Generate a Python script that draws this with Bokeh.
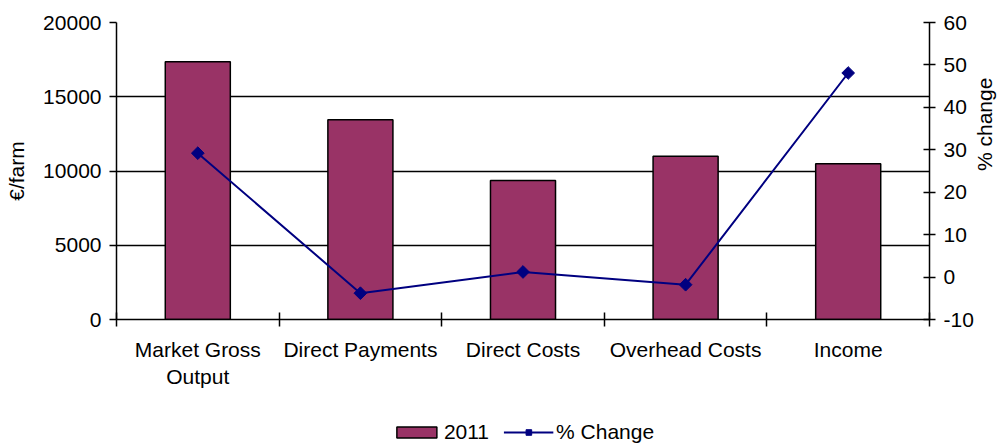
from bokeh.plotting import figure
from bokeh.layouts import column
from bokeh.models import (ColumnDataSource, LinearAxis, Range1d, FixedTicker,
                          Legend, LegendItem)
from bokeh.embed import file_html
from bokeh.resources import INLINE
import math

# ---- data ----
categories = ["Market Gross\nOutput", "Direct Payments", "Direct Costs",
              "Overhead Costs", "Income"]
values_2011 = [17350, 13450, 9360, 11000, 10490]
pct_change = [29.2, -3.8, 1.2, -1.8, 48.1]
left_ticks = [0, 5000, 10000, 15000, 20000]
right_ticks = [-10, 0, 10, 20, 30, 40, 50, 60]

xs = [i + 0.5 for i in range(len(categories))]
src = ColumnDataSource(dict(x=xs, v=values_2011, pct=pct_change))

FONT = "Liberation Sans"
FS = "21px"
BAR = dict(width=0.4, bottom=0, fill_color="#993366", line_color="black",
           line_width=1.5)
LINE = dict(line_color="#000080", line_width=2)
MARK = dict(marker="square", angle=math.pi / 4, size=9, fill_color="#000080",
            line_color="#000080")

p = figure(frame_width=813, frame_height=297, output_backend="svg",
           toolbar_location=None, x_range=Range1d(0, len(categories)),
           y_range=Range1d(0, 20000), min_border_left=116, min_border_top=22,
           min_border_right=78, min_border_bottom=100)
p.extra_y_ranges = {"pct": Range1d(-10, 60)}
p.outline_line_color = None
p.background_fill_color = "white"
p.border_fill_color = "white"

p.vbar(x="x", top="v", source=src, **BAR)
p.line(x="x", y="pct", source=src, y_range_name="pct", **LINE)
p.scatter(x="x", y="pct", source=src, y_range_name="pct", **MARK)

# x axis
xa = p.xaxis[0]
xa.ticker = FixedTicker(ticks=xs, minor_ticks=list(range(len(categories) + 1)))
xa.major_label_overrides = {x: c for x, c in zip(xs, categories)}
xa.major_tick_out = 0
xa.major_tick_in = 0
xa.minor_tick_out = 7
xa.minor_tick_in = 7
xa.minor_tick_line_color = "black"
xa.minor_tick_line_width = 1.5
xa.axis_line_color = "black"
xa.axis_line_width = 1.5
xa.major_label_standoff = 11
xa.major_label_text_font = FONT
xa.major_label_text_font_size = FS
xa.major_label_text_color = "black"

# left axis
ya = p.yaxis[0]
ya.ticker = FixedTicker(ticks=left_ticks)
ya.minor_tick_line_color = None
ya.major_tick_out = 7
ya.major_tick_in = 0
ya.major_tick_line_color = "black"
ya.major_tick_line_width = 1.5
ya.axis_line_color = "black"
ya.axis_line_width = 1.5
ya.major_label_standoff = 8
ya.major_label_text_font = FONT
ya.major_label_text_font_size = FS
ya.major_label_text_color = "black"
ya.axis_label = "€/farm"
ya.axis_label_text_font = FONT
ya.axis_label_text_font_size = FS
ya.axis_label_text_font_style = "normal"
ya.axis_label_text_color = "black"
ya.axis_label_standoff = 12

# right axis
ra = LinearAxis(y_range_name="pct", ticker=FixedTicker(ticks=right_ticks))
ra.major_label_overrides = {t: str(t) for t in right_ticks}
ra.minor_tick_line_color = None
ra.major_tick_out = 6
ra.major_tick_in = 6
ra.major_tick_line_color = "black"
ra.major_tick_line_width = 1.5
ra.axis_line_color = "black"
ra.axis_line_width = 1.5
ra.major_label_standoff = 8
ra.major_label_text_font = FONT
ra.major_label_text_font_size = FS
ra.major_label_text_color = "black"
p.add_layout(ra, "right")

# right axis title (reads bottom to top)
rt = LinearAxis(y_range_name="pct", ticker=FixedTicker(ticks=[25]))
rt.major_label_overrides = {25: "% change"}
rt.major_label_orientation = math.pi / 2
rt.major_tick_line_color = None
rt.minor_tick_line_color = None
rt.axis_line_color = None
rt.major_tick_out = 0
rt.major_tick_in = 0
rt.major_label_standoff = 8
rt.major_label_text_font = FONT
rt.major_label_text_font_size = FS
rt.major_label_text_color = "black"
p.add_layout(rt, "right")

p.xgrid.grid_line_color = None
p.ygrid.ticker = FixedTicker(ticks=left_ticks)
p.ygrid.grid_line_color = "black"
p.ygrid.grid_line_width = 1.5

# ---- legend strip (separate figure below the chart) ----
lp = figure(frame_width=813, frame_height=26, output_backend="svg",
            toolbar_location=None, x_range=Range1d(0, len(categories)),
            y_range=Range1d(0, 20000), min_border_left=116, min_border_top=0,
            min_border_right=78, min_border_bottom=0,
            x_axis_location=None, y_axis_location=None)
lp.extra_y_ranges = {"pct": Range1d(-10, 60)}
lp.outline_line_color = None
lp.grid.grid_line_color = None
lp.background_fill_color = "white"
lp.border_fill_color = "white"
lb = lp.vbar(x="x", top="v", source=src, visible=False, **BAR)
ll = lp.line(x="x", y="pct", source=src, y_range_name="pct", visible=False,
             **LINE)
lm = lp.scatter(x="x", y="pct", source=src, y_range_name="pct", visible=False,
                **MARK)

legend = Legend(items=[LegendItem(label="2011", renderers=[lb]),
                       LegendItem(label="% Change", renderers=[ll, lm])],
                orientation="horizontal", location="center",
                glyph_width=50, glyph_height=14, label_standoff=3, spacing=14,
                padding=0, margin=0, border_line_color=None,
                label_text_font=FONT, label_text_font_size=FS,
                label_text_color="black",
                label_height=14, background_fill_alpha=0)
lp.add_layout(legend, "center")

layout = column(p, lp, spacing=0)
open("out.html", "w").write(file_html(layout, INLINE))
